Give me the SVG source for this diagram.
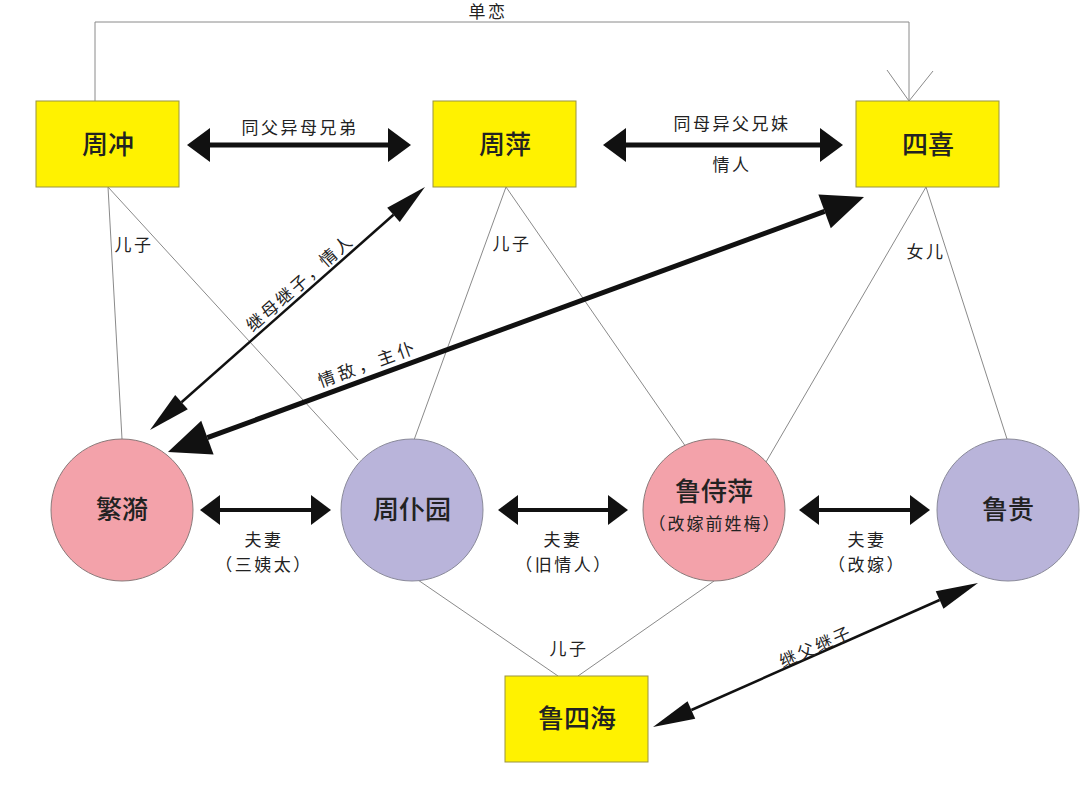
<svg xmlns="http://www.w3.org/2000/svg" width="1080" height="790" viewBox="0 0 1080 790">
<style>
  .box{fill:#FFF200;stroke:#9a9440;stroke-width:1}
  .pink{fill:#F3A2AA;stroke:#8a7a7a;stroke-width:1}
  .purple{fill:#B9B4DA;stroke:#8a8a9a;stroke-width:1}
  .nt{font-family:"Noto Sans CJK SC","Noto Sans",sans-serif;font-size:26px;font-weight:500;fill:#222;text-anchor:middle}
  .nt2{font-family:"Noto Sans CJK SC","Noto Sans",sans-serif;font-size:17px;letter-spacing:2px;fill:#222;text-anchor:middle}
  .lt{font-family:"Noto Sans CJK SC","Noto Sans",sans-serif;font-size:17px;letter-spacing:2.5px;fill:#222;text-anchor:middle}
  .thin{fill:none;stroke:#8a8a8a;stroke-width:1}
  .h1{stroke:#111;stroke-width:5;fill:none;marker-start:url(#mh1);marker-end:url(#mh1)}
  .h2{stroke:#111;stroke-width:4;fill:none;marker-start:url(#mh2);marker-end:url(#mh2)}
  .d1{stroke:#111;stroke-width:2.5;fill:none;marker-start:url(#md1);marker-end:url(#md1)}
  .d2{stroke:#111;stroke-width:5;fill:none;marker-start:url(#md2);marker-end:url(#md2)}
</style>
<defs>
  <marker id="mh1" markerUnits="userSpaceOnUse" markerWidth="24" markerHeight="36" refX="0" refY="17" orient="auto-start-reverse" viewBox="0 0 24 34" overflow="visible">
    <path d="M0,0 L23,17 L0,34 Z" fill="#111"/>
  </marker>
  <marker id="mh2" markerUnits="userSpaceOnUse" markerWidth="21" markerHeight="31" refX="0" refY="15" orient="auto-start-reverse" viewBox="0 0 21 30" overflow="visible">
    <path d="M0,0 L20,15 L0,30 Z" fill="#111"/>
  </marker>
  <marker id="md1" markerUnits="userSpaceOnUse" markerWidth="43" markerHeight="20" refX="0" refY="9.5" orient="auto-start-reverse" viewBox="0 0 43 19" overflow="visible">
    <path d="M0,0 L42,9.5 L0,19 Z" fill="#111"/>
  </marker>
  <marker id="md2" markerUnits="userSpaceOnUse" markerWidth="43" markerHeight="37" refX="0" refY="18" orient="auto-start-reverse" viewBox="0 0 43 36" overflow="visible">
    <path d="M0,0 L42,18 L0,36 Z" fill="#111"/>
  </marker>
</defs>
<rect width="1080" height="790" fill="#fff"/>

<g id="connectors">
  <path class="thin" d="M95,101 V22 H909 V101"/>
  <polyline class="thin" points="887,70 909,101 933,71"/>
  <text class="lt" x="488" y="18">单恋</text>

  <line class="thin" x1="108" y1="187" x2="122" y2="439"/>
  <line class="thin" x1="108" y1="187" x2="358" y2="460"/>
  <text class="lt" x="134" y="251">儿子</text>

  <line class="thin" x1="506" y1="187" x2="414" y2="440"/>
  <line class="thin" x1="506" y1="187" x2="686" y2="447"/>
  <text class="lt" x="512" y="250">儿子</text>

  <line class="thin" x1="926" y1="187" x2="766" y2="462"/>
  <line class="thin" x1="926" y1="187" x2="1007" y2="439"/>
  <text class="lt" x="926" y="258">女儿</text>

  <line class="thin" x1="418" y1="580" x2="558" y2="676"/>
  <line class="thin" x1="714" y1="581" x2="578" y2="676"/>
  <text class="lt" x="569" y="655">儿子</text>

  <line class="h1" x1="210" y1="145" x2="388" y2="145"/>
  <text class="lt" x="300" y="134">同父异母兄弟</text>
  <line class="h1" x1="626" y1="145" x2="820" y2="145"/>
  <text class="lt" x="732" y="130">同母异父兄妹</text>
  <text class="lt" x="732" y="171">情人</text>

  <line class="h2" x1="220" y1="510" x2="311" y2="510"/>
  <text class="lt" x="264" y="546">夫妻</text>
  <text class="lt" x="264" y="571">（三姨太）</text>
  <line class="h2" x1="518" y1="510" x2="608" y2="510"/>
  <text class="lt" x="563" y="546">夫妻</text>
  <text class="lt" x="564" y="571">（旧情人）</text>
  <line class="h2" x1="819" y1="510" x2="910" y2="510"/>
  <text class="lt" x="867" y="546">夫妻</text>
  <text class="lt" x="867" y="571">（改嫁）</text>

  <line class="d1" x1="181.5" y1="402.2" x2="393.5" y2="214.8"/>
  <text class="lt" transform="translate(300,283) rotate(-41.5)" x="0" y="6">继母继子，情人</text>

  <line class="d2" x1="207.4" y1="437.6" x2="824.6" y2="211.4"/>
  <text class="lt" transform="translate(368,364) rotate(-20)" x="0" y="6" style="letter-spacing:4px">情敌，主仆</text>

  <line class="d1" x1="691.4" y1="710" x2="939.6" y2="600"/>
  <text class="lt" transform="translate(816,647) rotate(-24)" x="0" y="6">继父继子</text>
</g>

<g id="zhouchong"><rect class="box" x="36" y="101" width="143" height="86"/><text class="nt" x="108" y="154">周冲</text></g>
<g id="zhouping"><rect class="box" x="433" y="101" width="143" height="86"/><text class="nt" x="505" y="154">周萍</text></g>
<g id="sixi"><rect class="box" x="856" y="101" width="143" height="86"/><text class="nt" x="928" y="154">四喜</text></g>
<g id="fanyi"><circle class="pink" cx="122" cy="510" r="71"/><text class="nt" x="122" y="519">繁漪</text></g>
<g id="zhoupuyuan"><circle class="purple" cx="412" cy="510" r="71"/><text class="nt" x="412" y="519">周仆园</text></g>
<g id="lushiping"><circle class="pink" cx="714" cy="510" r="71"/><text class="nt" x="714" y="501">鲁侍萍</text><text class="nt2" x="715" y="530">（改嫁前姓梅）</text></g>
<g id="lugui"><circle class="purple" cx="1008" cy="510" r="71"/><text class="nt" x="1008" y="519">鲁贵</text></g>
<g id="lusihai"><rect class="box" x="505" y="676" width="143" height="86"/><text class="nt" x="577" y="728">鲁四海</text></g>
</svg>
